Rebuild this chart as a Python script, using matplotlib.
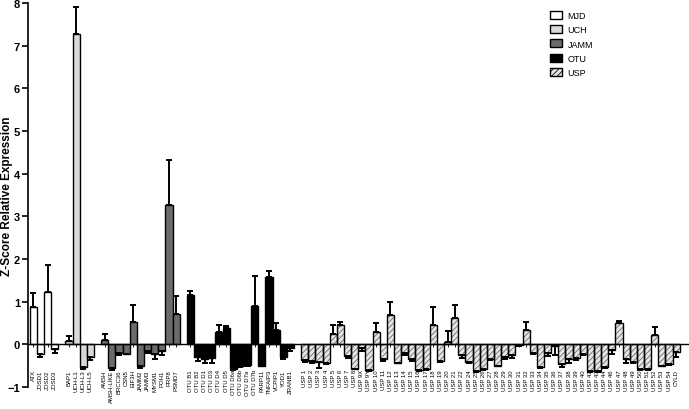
import numpy as np
import matplotlib
matplotlib.use("Agg")
import matplotlib.pyplot as plt
from matplotlib.patches import Patch

plt.rcParams['font.family'] = ['Liberation Sans', 'DejaVu Sans']

mjd_labels = ['ATX', 'JOSD1', 'JOSD2', 'JOSD3']
mjd_vals = [0.88, -0.22, 1.23, -0.12]
mjd_err = [0.32, 0.08, 0.62, 0.08]

uch_labels = ['BAP1', 'UCH-L1', 'UCH-L3', 'UCH-L5']
uch_vals = [0.08, 7.27, -0.54, -0.29]
uch_err = [0.12, 0.63, 0.03, 0.08]

jamm_labels = ['AMSH', 'AMSH-LIKE', 'BRCC36', 'CSN5', 'EIF3H', 'JAMM2', 'JAMM3',
               'MYSM1', 'POH1', 'PRP8', 'PSMD7']
jamm_vals = [0.1, -0.56, -0.2, -0.22, 0.53, -0.52, -0.15, -0.22, -0.15, 3.27, 0.7]
jamm_err = [0.13, 0.05, 0.06, 0.02, 0.38, 0.03, 0.05, 0.13, 0.1, 1.05, 0.43]

otu_labels = ['OTU B1', 'OTU B2', 'OTU D1', 'OTU D3', 'OTU D4', 'OTU D5', 'OTU D6a',
              'OTU D6b', 'OTU D7a', 'OTU D7b', 'PARP11', 'TNFAIP3', 'VCPIP1', 'YOD1', 'ZRANB1']
otu_vals = [1.16, -0.3, -0.35, -0.33, 0.28, 0.38, -0.58, -0.5, -0.48, 0.9, -0.5,
            1.57, 0.33, -0.3, -0.1]
otu_err = [0.08, 0.1, 0.1, 0.12, 0.17, 0.05, 0.03, 0.03, 0.03, 0.7, 0.02,
           0.15, 0.17, 0.04, 0.05]

usp_labels = ['USP 1', 'USP 2', 'USP 3', 'USP 4', 'USP 5', 'USP 6', 'USP 7', 'USP 8',
              'USP 9X', 'USP 9Y', 'USP 10', 'USP 11', 'USP 12', 'USP 13', 'USP 14',
              'USP 15', 'USP 16', 'USP 17', 'USP 18', 'USP 19', 'USP 20', 'USP 21',
              'USP 22', 'USP 24', 'USP 25', 'USP 26', 'USP 27', 'USP 28', 'USP 29',
              'USP 30', 'USP 31', 'USP 32', 'USP 33', 'USP 34', 'USP 35', 'USP 36',
              'USP 37', 'USP 38', 'USP 39', 'USP 40', 'USP 42', 'USP 43', 'USP 44',
              'USP 46', 'USP 47', 'USP 48', 'USP 49', 'USP 50', 'USP 51', 'USP 52',
              'USP 53', 'USP 54', 'CYLD']
usp_vals = [-0.38, -0.4, -0.42, -0.44, 0.25, 0.44, -0.28, -0.57,
            -0.08, -0.6, 0.28, -0.35, 0.68, -0.43, -0.2,
            -0.35, -0.6, -0.58, 0.44, -0.4, 0.05, 0.62,
            -0.25, -0.42, -0.62, -0.58, -0.35, -0.5, -0.31,
            -0.25, -0.03, 0.33, -0.2, -0.54, -0.2, -0.05,
            -0.46, -0.35, -0.33, -0.23, -0.62, -0.62, -0.54,
            -0.13, 0.5, -0.35, -0.41, -0.59, -0.59, 0.22,
            -0.5, -0.46, -0.19]
usp_err = [0.03, 0.05, 0.13, 0.03, 0.2, 0.07, 0.05, 0.02,
           0.07, 0.02, 0.22, 0.04, 0.32, 0.02, 0.06,
           0.05, 0.02, 0.02, 0.44, 0.02, 0.25, 0.3,
           0.08, 0.02, 0.02, 0.02, 0.03, 0.02, 0.04,
           0.08, 0.02, 0.18, 0.04, 0.02, 0.07, 0.2,
           0.08, 0.1, 0.03, 0.03, 0.02, 0.02, 0.02,
           0.1, 0.05, 0.1, 0.03, 0.02, 0.02, 0.18,
           0.02, 0.03, 0.12]

groups = [
    ('MJD', mjd_labels, mjd_vals, mjd_err, dict(facecolor='white')),
    ('UCH', uch_labels, uch_vals, uch_err, dict(facecolor='#d9d9d9')),
    ('JAMM', jamm_labels, jamm_vals, jamm_err, dict(facecolor='#6b6b6b')),
    ('OTU', otu_labels, otu_vals, otu_err, dict(facecolor='black')),
    ('USP', usp_labels, usp_vals, usp_err, dict(facecolor='#e6e6e6', hatch='//////')),
]

plt.rcParams['hatch.linewidth'] = 0.6

fig = plt.figure(figsize=(6.89, 4.10), dpi=100)
ax = fig.add_axes([0.041, 0.054, 0.958, 0.936])

all_pos, all_labels = [], []
start = 0
handles = []
for name, labels, vals, errs, style in groups:
    pos = np.arange(start, start + len(labels))
    vals = np.asarray(vals)
    errs = np.asarray(errs)
    if 'hatch' in style:
        ax.bar(pos, vals, width=1.0, facecolor=style['facecolor'], hatch=style['hatch'],
               edgecolor='#6a6a6a', linewidth=0, zorder=2)
        ax.bar(pos, vals, width=1.0, facecolor='none', edgecolor='black',
               linewidth=1.0, zorder=3)
        handles.append(Patch(facecolor=style['facecolor'], hatch=style['hatch'],
                             edgecolor='black', linewidth=1.0, label=name))
    else:
        ax.bar(pos, vals, width=1.0, facecolor=style['facecolor'], edgecolor='black',
               linewidth=1.0, zorder=2)
        handles.append(Patch(facecolor=style['facecolor'], edgecolor='black',
                             linewidth=1.0, label=name))
    lower = np.where(vals < 0, errs, 0)
    upper = np.where(vals >= 0, errs, 0)
    ax.errorbar(pos, vals, yerr=[lower, upper], fmt='none', ecolor='black',
                elinewidth=1.4, capsize=2.2, capthick=1.4, zorder=4)
    all_pos.extend(pos.tolist())
    all_labels.extend(labels)
    start += len(labels) + 1

ax.set_xlim(-0.7, 91.7)
ax.set_ylim(-1, 8)
ax.spines['top'].set_visible(False)
ax.spines['right'].set_visible(False)
ax.spines['bottom'].set_position(('data', 0))
ax.spines['bottom'].set_linewidth(1.0)
ax.spines['left'].set_linewidth(1.2)
ax.spines['bottom'].set_zorder(5)

ax.set_xticks(all_pos)
ax.set_xticklabels(all_labels, rotation=90, fontsize=4.3)
ax.tick_params(axis='x', direction='out', length=2.5, width=0.6, pad=15.5)
ax.set_yticks(range(-1, 9))
ax.tick_params(axis='y', direction='out', length=4, width=1.2, labelsize=8, pad=2)
for t in ax.get_yticklabels():
    t.set_fontweight('bold')
ax.set_ylabel('Z-Score Relative Expression', fontsize=8.5, fontweight='bold')
ax.yaxis.set_label_coords(-0.0235, 0.5)

ax.legend(handles=handles, loc='upper right', bbox_to_anchor=(0.868, 1.0), frameon=False,
          fontsize=6.5, handlelength=1.4, handleheight=1.0, labelspacing=0.55,
          handletextpad=0.6)

fig.savefig('out.png', dpi=100)
